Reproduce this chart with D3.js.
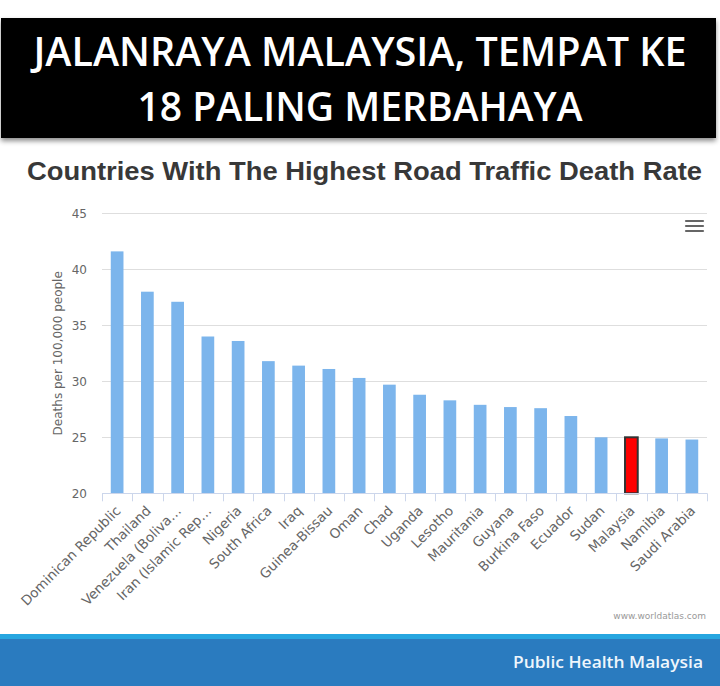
<!DOCTYPE html>
<html>
<head>
<meta charset="utf-8">
<script src="https://cdn.jsdelivr.net/npm/d3@7"></script>
<style>
  body { margin: 0; background: #fff; }
  svg { display: block; }
</style>
</head>
<body>
<div id="chart"></div>
<script>
// data
var countries = ["Dominican Republic", "Thailand", "Venezuela (Boliva\u2026", "Iran (Islamic Rep\u2026",
  "Nigeria", "South Africa", "Iraq", "Guinea-Bissau", "Oman", "Chad", "Uganda", "Lesotho",
  "Mauritania", "Guyana", "Burkina Faso", "Ecuador", "Sudan", "Malaysia", "Namibia", "Saudi Arabia"];
var rates = [41.6, 38.0, 37.1, 34.0, 33.6, 31.8, 31.4, 31.1, 30.3, 29.7, 28.8, 28.3,
  27.9, 27.7, 27.6, 26.9, 25.0, 25.0, 24.9, 24.8];
var yTicks = [20, 25, 30, 35, 40, 45];
var highlight = "Malaysia";

var titleLines = ["JALANRAYA MALAYSIA, TEMPAT KE", "18 PALING MERBAHAYA"];
var chartTitle = "Countries With The Highest Road Traffic Death Rate";
var yTitle = "Deaths per 100,000 people";
var credit = "www.worldatlas.com";
var footer = "Public Health Malaysia";

var W = 720, H = 686;
var plot = { left: 102, right: 707, top: 213.3, bottom: 493.3 };

var svg = d3.select("#chart").append("svg")
  .attr("width", W)
  .attr("height", H)
  .attr("viewBox", "0 0 " + W + " " + H);

// shadow for the black banner
var defs = svg.append("defs");
var f = defs.append("filter").attr("id", "shadow")
  .attr("x", "-5%").attr("y", "-10%").attr("width", "110%").attr("height", "130%");
f.append("feDropShadow").attr("dx", 0).attr("dy", 3).attr("stdDeviation", 2.5)
  .attr("flood-color", "#000").attr("flood-opacity", 0.45);

svg.append("rect").attr("width", W).attr("height", H).attr("fill", "#fff");

// banner
svg.append("rect")
  .attr("x", 1).attr("y", 18).attr("width", 715).attr("height", 120)
  .attr("fill", "#000")
  .attr("filter", "url(#shadow)");

var bannerText = [
  { y: 66, len: 653 },
  { y: 121, len: 445 }
];
svg.selectAll(".banner")
  .data(titleLines)
  .enter().append("text")
  .attr("class", "banner")
  .attr("x", 360)
  .attr("y", function (d, i) { return bannerText[i].y; })
  .attr("text-anchor", "middle")
  .attr("textLength", function (d, i) { return bannerText[i].len; })
  .attr("lengthAdjust", "spacingAndGlyphs")
  .style("font-family", "'Open Sans', sans-serif")
  .style("font-weight", 600)
  .style("font-size", "39px")
  .style("fill", "#fff")
  .text(function (d) { return d; });

// chart title
svg.append("text")
  .attr("x", 27).attr("y", 180)
  .attr("textLength", 675)
  .attr("lengthAdjust", "spacingAndGlyphs")
  .style("font-family", "'Liberation Sans', Arial, sans-serif")
  .style("font-weight", "bold")
  .style("font-size", "25px")
  .style("fill", "#383838")
  .text(chartTitle);

// scales
var x = d3.scaleBand()
  .domain(countries)
  .range([plot.left, plot.right])
  .padding(0);

var y = d3.scaleLinear()
  .domain([20, 45])
  .range([plot.bottom, plot.top]);

// grid lines
svg.append("g")
  .selectAll("line")
  .data(yTicks)
  .enter().append("line")
  .attr("x1", plot.left)
  .attr("x2", plot.right)
  .attr("y1", function (d) { return Math.round(y(d)) + 0.5; })
  .attr("y2", function (d) { return Math.round(y(d)) + 0.5; })
  .style("stroke", "#dedede")
  .style("stroke-width", 1);

// y axis labels
var yAxis = svg.append("g")
  .attr("transform", "translate(" + (plot.left - 15) + ",0)")
  .call(d3.axisLeft(y).tickValues(yTicks).tickSize(0).tickPadding(0));
yAxis.select(".domain").remove();
yAxis.selectAll("text")
  .style("font-family", "'DejaVu Sans', Verdana, sans-serif")
  .style("font-size", "12px")
  .style("fill", "#666");

// y axis title
svg.append("text")
  .attr("transform", "translate(62," + ((plot.top + plot.bottom) / 2) + ") rotate(-90)")
  .attr("text-anchor", "middle")
  .style("font-family", "'DejaVu Sans', Verdana, sans-serif")
  .style("font-size", "12px")
  .style("fill", "#666")
  .text(yTitle);

// bars
var barW = x.bandwidth() * 0.42;
svg.append("g")
  .selectAll("rect")
  .data(countries)
  .enter().append("rect")
  .attr("x", function (d) { return x(d) + (x.bandwidth() - barW) / 2; })
  .attr("y", function (d, i) { return y(rates[i]); })
  .attr("width", barW)
  .attr("height", function (d, i) { return y(20) - y(rates[i]); })
  .style("fill", function (d) { return d === highlight ? "#ff0000" : "#7cb5ec"; })
  .style("stroke", function (d) { return d === highlight ? "#333" : "none"; })
  .style("stroke-width", function (d) { return d === highlight ? 2 : 0; });

// x axis line and ticks
var xAxisG = svg.append("g");
xAxisG.append("line")
  .attr("x1", plot.left).attr("x2", plot.right)
  .attr("y1", Math.round(plot.bottom) + 0.5).attr("y2", Math.round(plot.bottom) + 0.5)
  .style("stroke", "#ccd6eb");
xAxisG.selectAll(".tick")
  .data(countries.concat(["end"]))
  .enter().append("line")
  .attr("class", "tick")
  .attr("x1", function (d, i) { return Math.round(plot.left + i * x.step()) + 0.5; })
  .attr("x2", function (d, i) { return Math.round(plot.left + i * x.step()) + 0.5; })
  .attr("y1", plot.bottom)
  .attr("y2", plot.bottom + 8)
  .style("stroke", "#ccd6eb");

// x labels, rotated
svg.append("g")
  .selectAll("text")
  .data(countries)
  .enter().append("text")
  .attr("transform", function (d) {
    return "translate(" + (x(d) + x.bandwidth() / 2 + 1) + "," + (plot.bottom + 15) + ") rotate(-45)";
  })
  .attr("text-anchor", "end")
  .attr("dy", "0.35em")
  .style("font-family", "'DejaVu Sans', Verdana, sans-serif")
  .style("font-size", "13.5px")
  .style("fill", "#666")
  .text(function (d) { return d; });

// menu icon
svg.append("g")
  .selectAll("line")
  .data([0, 1, 2])
  .enter().append("line")
  .attr("x1", 686).attr("x2", 703)
  .attr("y1", function (d) { return 221 + d * 5; })
  .attr("y2", function (d) { return 221 + d * 5; })
  .style("stroke", "#666")
  .style("stroke-width", 2.2)
  .style("stroke-linecap", "round");

// credit
svg.append("text")
  .attr("x", 706).attr("y", 619)
  .attr("text-anchor", "end")
  .style("font-family", "'DejaVu Sans', Verdana, sans-serif")
  .style("font-size", "9px")
  .style("fill", "#999")
  .text(credit);

// footer band
svg.append("rect").attr("x", 0).attr("y", 634).attr("width", W).attr("height", 5).attr("fill", "#27a6e0");
svg.append("rect").attr("x", 0).attr("y", 639).attr("width", W).attr("height", H - 639).attr("fill", "#2a7bbf");
svg.append("text")
  .attr("x", 703).attr("y", 668)
  .attr("text-anchor", "end")
  .attr("textLength", 190)
  .attr("lengthAdjust", "spacingAndGlyphs")
  .style("font-family", "'Open Sans', sans-serif")
  .style("font-weight", 600)
  .style("font-size", "17px")
  .style("fill", "#eef6fc")
  .text(footer);
</script>
</body>
</html>
